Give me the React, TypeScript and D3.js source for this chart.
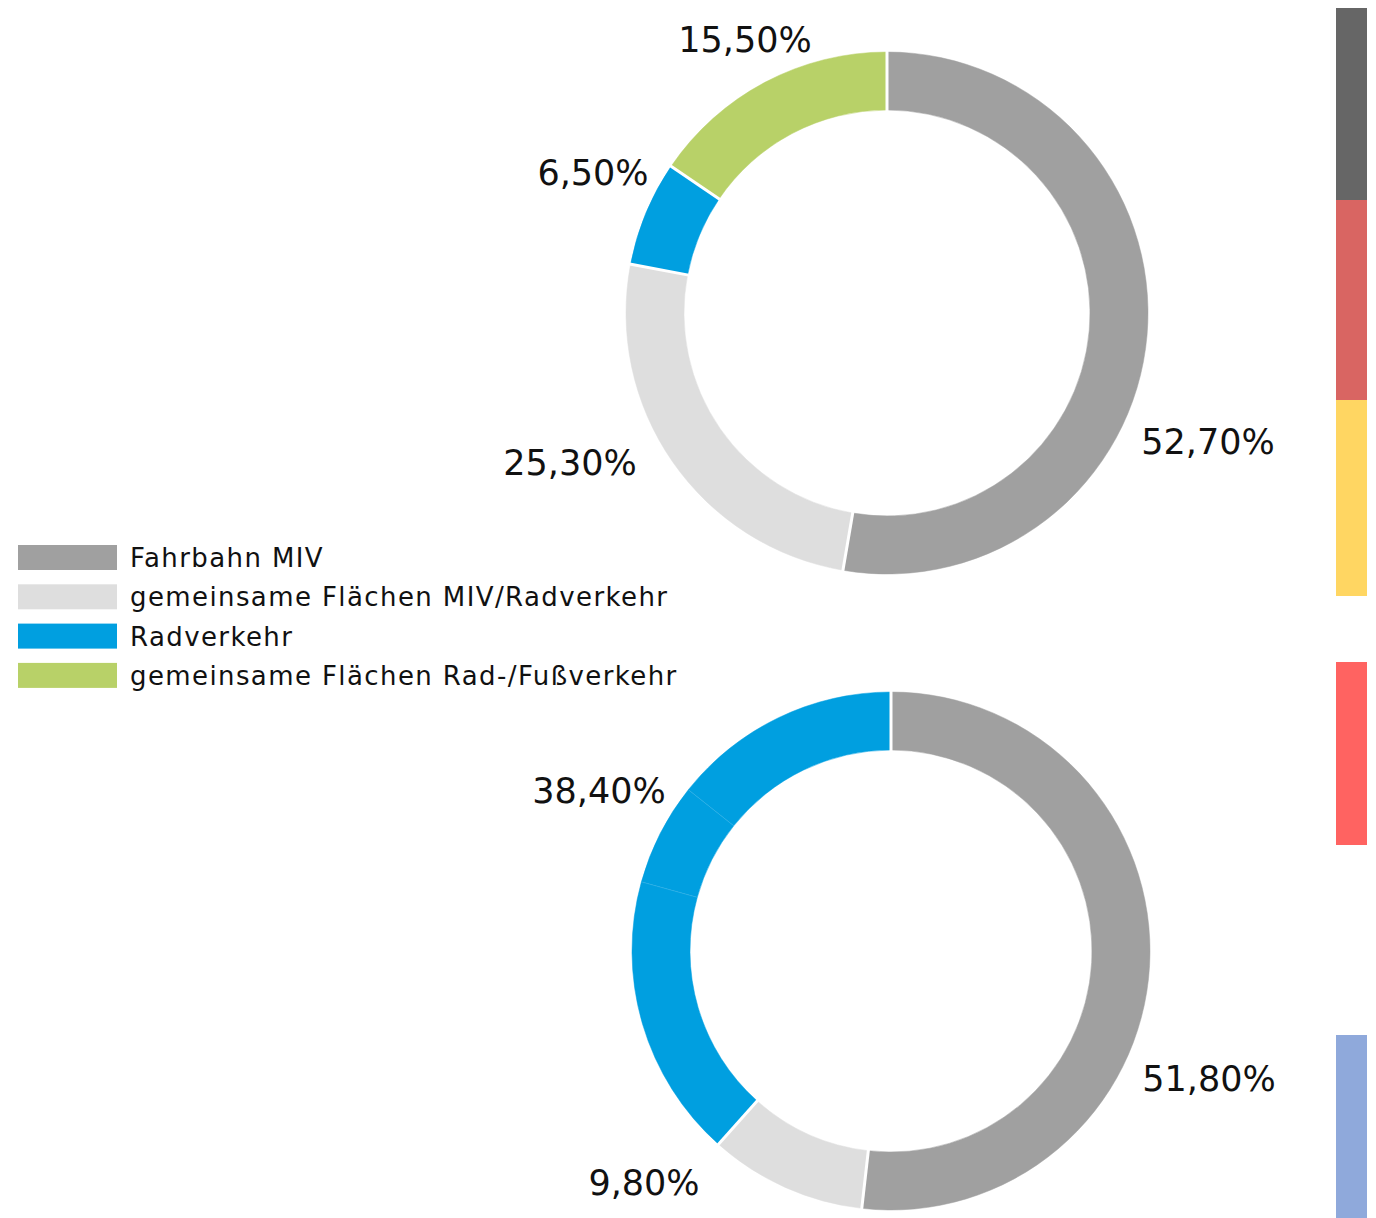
import React from "react";
import * as d3 from "d3";

const categories = [
  "Fahrbahn MIV",
  "gemeinsame Flächen MIV/Radverkehr",
  "Radverkehr",
  "gemeinsame Flächen Rad-/Fußverkehr",
];
const categoryColors = ["#a0a0a0", "#dedede", "#009fe0", "#b8d168"];

// top donut: category index + value
const topCats = [0, 1, 2, 3];
const topValues = [52.7, 25.3, 6.5, 15.5];
const topLabels = ["52,70%", "25,30%", "6,50%", "15,50%"];

// bottom donut: Radverkehr drawn as three adjoining pieces
const bottomCats = [0, 1, 2, 2, 2];
const bottomValues = [51.8, 9.8, 17.7, 6.4, 14.3];
const bottomLabels = ["51,80%", "9,80%", "38,40%"];

// side bars
const sideColors = ["#666666", "#d96562", "#ffd662", "none", "#ff6361", "none", "#8fa9db"];
const sideValues = [192, 200, 196, 66, 183, 190, 183];

const W = 1376;
const H = 1218;
const FONT = "'DejaVu Sans', sans-serif";

function Donut({ cx, cy, r0, r1, cats, values, seamStroke }: any) {
  const pie = d3.pie<number>().sort(null).value((d) => d)(values);
  const arc = d3.arc<any>().innerRadius(r0).outerRadius(r1);
  return (
    <g transform={`translate(${cx},${cy})`}>
      {pie.map((p, i) => (
        <path
          key={i}
          d={arc(p) as string}
          fill={categoryColors[cats[i]]}
          stroke={categoryColors[cats[i]]}
          strokeWidth={0.5}
        />
      ))}
      {pie.map((p, i) => {
        const a = p.startAngle;
        const sameAsPrev = i > 0 && cats[i] === cats[i - 1];
        const x1 = Math.sin(a) * (r0 - 1);
        const y1 = -Math.cos(a) * (r0 - 1);
        const x2 = Math.sin(a) * (r1 + 1);
        const y2 = -Math.cos(a) * (r1 + 1);
        return (
          <line
            key={"s" + i}
            x1={x1}
            y1={y1}
            x2={x2}
            y2={y2}
            stroke={sameAsPrev ? seamStroke : "#ffffff"}
            strokeWidth={sameAsPrev ? 1 : 3}
          />
        );
      })}
    </g>
  );
}

export default function App() {
  const yBar = d3
    .scaleLinear()
    .domain([0, d3.sum(sideValues)])
    .range([8, H]);
  let acc = 0;
  const bars = sideValues.map((v, i) => {
    const y0 = yBar(acc);
    acc += v;
    const y1 = yBar(acc);
    return { y0, y1, c: sideColors[i] };
  });

  const topLabelPos = [
    [1208, 454],
    [570, 475],
    [593, 185],
    [745, 52],
  ];
  const bottomLabelPos = [
    [1209, 1091],
    [644, 1195],
    [599, 803],
  ];

  return (
    <div style={{ position: "absolute", left: 0, top: 0 }}>
      <svg width={W} height={H} style={{ display: "block", background: "#ffffff" }}>
        <Donut cx={887} cy={313} r0={203} r1={261} cats={topCats} values={topValues} seamStroke="#ffffff" />
        <Donut
          cx={891}
          cy={951}
          r0={201}
          r1={259}
          cats={bottomCats}
          values={bottomValues}
          seamStroke="rgba(255,255,255,0.12)"
        />
        {topLabels.map((t, i) => (
          <text
            key={"tl" + i}
            x={topLabelPos[i][0]}
            y={topLabelPos[i][1]}
            textAnchor="middle"
            fontFamily={FONT}
            fontSize={35}
            fill="#111111"
          >
            {t}
          </text>
        ))}
        {bottomLabels.map((t, i) => (
          <text
            key={"bl" + i}
            x={bottomLabelPos[i][0]}
            y={bottomLabelPos[i][1]}
            textAnchor="middle"
            fontFamily={FONT}
            fontSize={35}
            fill="#111111"
          >
            {t}
          </text>
        ))}
        {categories.map((c, i) => (
          <g key={"lg" + i} transform={`translate(18,${545 + i * 39.3})`}>
            <rect width={99} height={25} fill={categoryColors[i]} />
            <text x={112} y={22} fontFamily={FONT} fontSize={26} letterSpacing={1.4} fill="#111111">
              {c}
            </text>
          </g>
        ))}
        {bars.map((b, i) =>
          b.c === "none" ? null : (
            <rect key={"sb" + i} x={1336} y={b.y0} width={31} height={b.y1 - b.y0} fill={b.c} />
          )
        )}
      </svg>
    </div>
  );
}
